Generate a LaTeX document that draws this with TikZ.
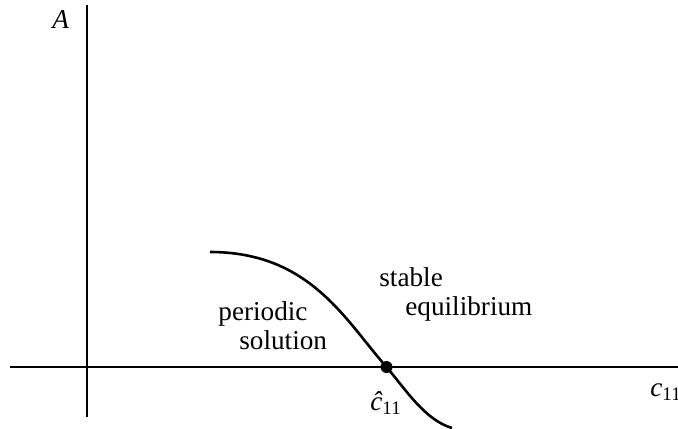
\documentclass[tikz,border=0pt]{standalone}
\usepackage{amsmath}
\usepackage{fontspec}
\setmainfont{Liberation Serif}

\begin{document}
\begin{tikzpicture}[
    x=0.5pt, y=-0.5pt,
    font=\fontsize{13.6}{15}\selectfont,
    axis/.style={line width=1.3pt},
    curve/.style={line width=1.3pt},
    lbl/.style={inner sep=0pt, anchor=base west},
    dot/.style={circle, fill=black, inner sep=0pt, minimum size=6pt}
]

\useasboundingbox (0,0) rectangle (678,428);

% Axes
\coordinate (Ytop) at (87,5);
\coordinate (Ybot) at (87,417);
\coordinate (Xleft) at (10,367);
\coordinate (Xright) at (678,367);
\draw[axis] (Ybot) -- (Ytop);
\draw[axis] (Xleft) -- (Xright);

% Curve
\coordinate (S) at (210,252);
\coordinate (C) at (386.5,367);
\coordinate (E) at (452,428);
\draw[curve] (S) .. controls (310,252) and (345,320) .. (C)
    .. controls (406,390) and (425,420) .. (E);
\node[dot] (Cdot) at (C) {};

% Labels
\node[lbl] (Alabel) at (52,28) {\textit{A}};
\node[lbl] (clabel) at (650,396) {$\textit{c}_{\textrm{11}}$};
\node[lbl] (chatlabel) at (370,410) {$\textit{\^c}_{\textrm{11}}$};
\node[lbl] (per) at (218,320) {periodic};
\node[lbl] (sol) at (239,349) {solution};
\node[lbl] (stab) at (379,286) {stable};
\node[lbl] (equi) at (405,315) {equilibrium};

\end{tikzpicture}
\end{document}
